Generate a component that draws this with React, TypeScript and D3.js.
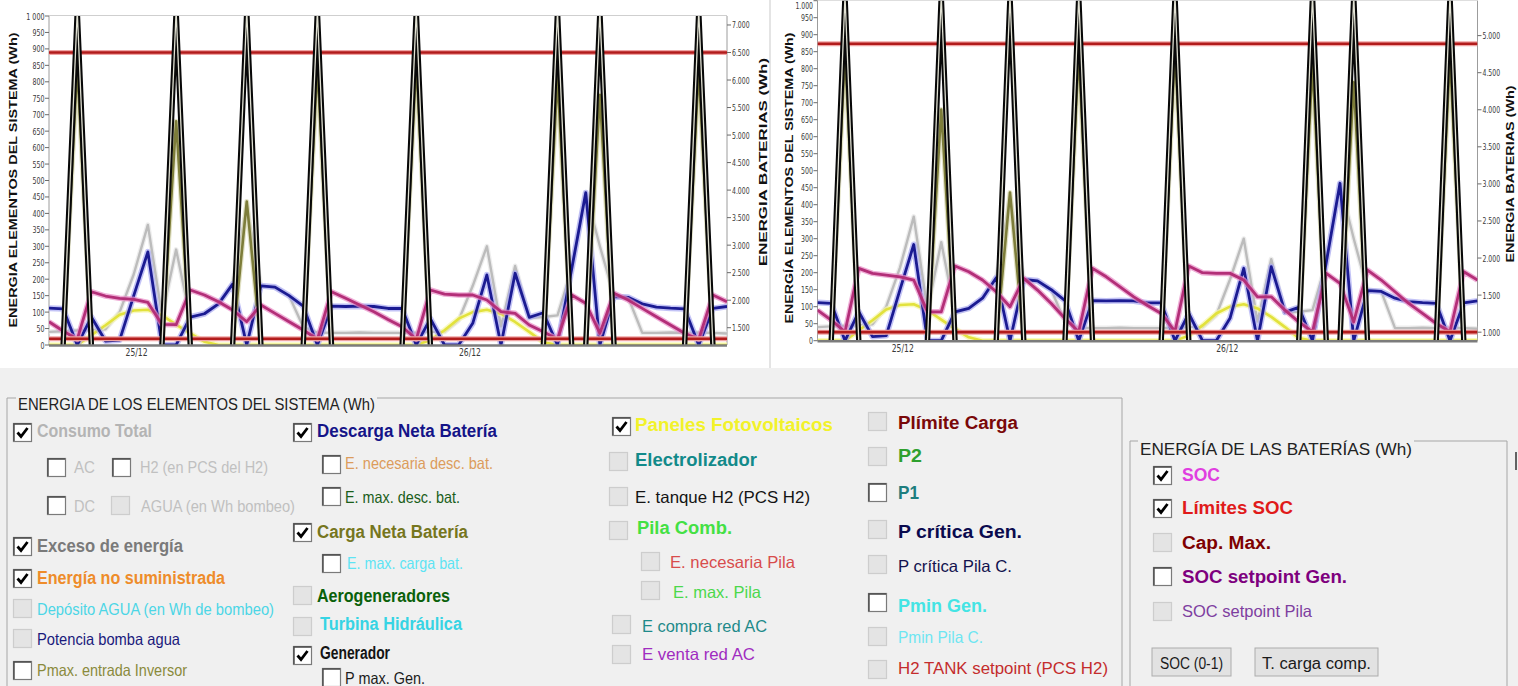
import React from "react";
import * as d3 from "d3";

// ---- Hourly simulation values (index 0 = 24/12 18:00) ----
const dateTicks = [
  { at: 6.2, label: "25/12" },
  { at: 29.8, label: "26/12" },
];

// Consumo Total (Wh)
const consumoTotal = [
  40, 42, 44, 45, 48, 100, 215, 365, 90, 290, 82, 95, 125, 185, 420, 180, 175, 150, 55, 38, 37, 37, 38, 37, 37,
  37, 38, 40, 40, 75, 180, 300, 56, 240, 82, 85, 90, 230, 463, 300, 150, 145, 37, 37, 38, 37, 38, 37, 35,
];
// Descarga Neta Batería (Wh)
const descargaNeta = [
  112, 110, 0, 85, 12, 15, 150, 283, 0, 0, 85, 95, 125, 185, 0, 180, 176, 150, 118, 0, 118, 117, 118, 117, 111,
  111, 0, 80, 0, 0, 66, 213, 0, 218, 84, 98, 0, 230, 463, 0, 147, 145, 125, 115, 112, 110, 0, 111, 117,
];
// Carga Neta Batería (Wh)
const cargaNeta = [
  0, 0, 850, 0, 0, 0, 0, 0, 0, 680, 0, 0, 0, 0, 436, 0, 0, 0, 0, 850, 0, 0, 0, 0, 0,
  0, 860, 0, 0, 0, 0, 0, 0, 0, 0, 0, 815, 0, 0, 760, 0, 0, 0, 0, 0, 0, 840, 0, 0,
];
// Generador (Wh)
const generador = [
  0, 0, 1015, 0, 0, 0, 0, 0, 0, 1015, 0, 0, 0, 0, 1015, 0, 0, 0, 0, 1015, 0, 0, 0, 0, 0,
  0, 1015, 0, 0, 0, 0, 0, 0, 0, 0, 0, 1015, 0, 0, 1015, 0, 0, 0, 0, 0, 0, 1015, 0, 0,
];
// Paneles Fotovoltaicos (Wh)
const fotovoltaica = [
  0, 0, 0, 30, 60, 92, 105, 107, 90, 62, 35, 10, 0, 0, 0, 0, 0, 0, 0, 0, 0, 0, 0, 0, 0,
  0, 0, 15, 45, 80, 100, 107, 95, 70, 40, 8, 0, 0, 0, 0, 0, 0, 0, 0, 0, 0, 0, 0, 0,
];
// SOC (Wh) — battery bank of the first case
const socCaso1 = [
  1609, 1440, 1290, 2154, 2076, 2034, 2016, 1960, 1560, 1555, 2185, 2094, 1972, 1822, 1609, 1912, 1761, 1609, 1458, 1290, 2154, 2034, 1912, 1791, 1650,
  1519, 1290, 2185, 2112, 2094, 2094, 2003, 1791, 1761, 1549, 1427, 1290, 2094, 1943, 1400, 2125, 2003, 1852, 1700, 1549, 1398, 1290, 2094, 1972,
];
// SOC (Wh) — battery bank of the second case
const socCaso2 = [
  1297, 1162, 1005, 1860, 1793, 1770, 1747, 1703, 1274, 1274, 1892, 1815, 1703, 1545, 1342, 1725, 1568, 1387, 1185, 1005, 1860, 1747, 1612, 1477, 1360,
  1252, 1010, 1892, 1802, 1793, 1793, 1703, 1477, 1477, 1297, 1139, 1005, 1793, 1658, 1139, 1838, 1703, 1545, 1387, 1252, 1117, 1005, 1815, 1703,
];
const limitesSoc1 = [1300, 6500];
const limitesSoc2 = [1000, 4890];

const TICK_FONT = "'Liberation Sans Narrow','Arial Narrow','DejaVu Sans Condensed',sans-serif";
const UI_FONT = "'Liberation Sans',Arial,sans-serif";

const thousands = (v: number) =>
  v >= 1000 ? `${Math.floor(v / 1000)}.${String(v % 1000).padStart(3, "0")}` : String(v);

// width of a small axis label, in pixels
const tickWidth = (s: string) =>
  s.split("").reduce((w, c) => w + (c === "." ? 1.6 : c === " " ? 2.2 : 4), 0);

type PanelCfg = {
  id: string;
  x0: number;
  x1: number;
  top: number;
  bottom: number;
  batDomain: [number, number];
  soc: number[];
  limits: number[];
  sysFmt: (v: number) => string;
  leftTitle: string;
  leftTitleX: number;
  leftTitleY: number;
  leftTitleLen: number;
  rightTitle: string;
  rightTitleX: number;
  rightTitleY: number;
  rightTitleLen: number;
  dateY: number;
};

const panels: PanelCfg[] = [
  {
    id: "a",
    x0: 49,
    x1: 727,
    top: 16,
    bottom: 345,
    batDomain: [1186, 7163],
    soc: socCaso1,
    limits: limitesSoc1,
    sysFmt: (v) => (v === 1000 ? "1 000" : String(v)),
    leftTitle: "ENERGIA ELEMENTOS DEL SISTEMA (Wh)",
    leftTitleX: 13,
    leftTitleY: 180,
    leftTitleLen: 295,
    rightTitle: "ENERGIA BATERIAS (Wh)",
    rightTitleX: 763,
    rightTitleY: 162,
    rightTitleLen: 208,
    dateY: 352,
  },
  {
    id: "b",
    x0: 817.5,
    x1: 1477.5,
    top: 0.7,
    bottom: 340.7,
    batDomain: [885, 5471],
    soc: socCaso2,
    limits: limitesSoc2,
    sysFmt: (v) => thousands(v),
    leftTitle: "ENERGÍA ELEMENTOS DEL SISTEMA (Wh)",
    leftTitleX: 789,
    leftTitleY: 178,
    leftTitleLen: 291,
    rightTitle: "ENERGIA BATERIAS (Wh)",
    rightTitleX: 1510,
    rightTitleY: 174,
    rightTitleLen: 177,
    dateY: 348,
  },
];

function Panel({ cfg }: { cfg: PanelCfg }) {
  const x = d3.scaleLinear().domain([0, consumoTotal.length - 1]).range([cfg.x0, cfg.x1]);
  const y = d3.scaleLinear().domain([0, 1000]).range([cfg.bottom, cfg.top]);
  const yb = d3.scaleLinear().domain(cfg.batDomain).range([cfg.bottom, cfg.top]);
  const path = (vals: number[], s: d3.ScaleLinear<number, number>) =>
    d3.line<number>().x((_, i) => x(i)).y((d) => s(d))(vals) || "";
  // one rise-and-fall path per non-zero step of a pulsed series
  const pulses = (vals: number[]) =>
    vals
      .map((v, k) => ({ v, k }))
      .filter((p) => p.v > 0)
      .map((p) => {
        const idx = [p.k - 1, p.k, p.k + 1].filter((i) => i >= 0 && i < vals.length);
        return d3.line<number>().x((i) => x(i)).y((i) => y(vals[i]))(idx) || "";
      })
      .join(" ");
  const clipId = `clip-${cfg.id}`;
  const sysTicks = y.ticks(20);
  const batTicks = yb.ticks(10).filter((t) => yb(t) >= cfg.top - 1);

  const series = [
    { d: path(consumoTotal, y), halo: "#e6e6e6", core: "#bcbcbc", hw: 5, cw: 2.4 },
    { d: path(fotovoltaica, y), halo: "#f6f6a8", core: "#e2e23c", hw: 5.5, cw: 2.6 },
    { d: path(descargaNeta, y), halo: "#a9a9f2", core: "#1b1b92", hw: 6, cw: 2.8 },
    { d: pulses(cargaNeta), halo: "#d6d6ae", core: "#7d7d3a", hw: 5, cw: 2.6 },
    { d: path(cfg.soc, yb), halo: "#e88cc6", core: "#b32f78", hw: 5.5, cw: 2.8 },
  ];
  const genPath = pulses(generador);

  return (
    <g>
      <defs>
        <clipPath id={clipId}>
          <rect x={cfg.x0} y={cfg.top} width={cfg.x1 - cfg.x0} height={cfg.bottom - cfg.top} />
        </clipPath>
      </defs>
      {/* frame */}
      <line x1={cfg.x0} x2={cfg.x1} y1={cfg.top - 0.5} y2={cfg.top - 0.5} stroke="#cfcfcf" strokeWidth={1} />
      <line x1={cfg.x0} x2={cfg.x0} y1={cfg.top} y2={cfg.bottom} stroke="#9c9c9c" strokeWidth={1} />
      <line x1={cfg.x1} x2={cfg.x1} y1={cfg.top} y2={cfg.bottom} stroke="#9c9c9c" strokeWidth={1} />

      <g clipPath={`url(#${clipId})`}>
        {series.map((s, i) => (
          <g key={i}>
            <path d={s.d} fill="none" stroke={s.halo} strokeWidth={s.hw} strokeOpacity={0.7} strokeLinejoin="round" />
            <path d={s.d} fill="none" stroke={s.core} strokeWidth={s.cw} strokeLinejoin="round" />
          </g>
        ))}
        {cfg.limits.map((v, i) => (
          <g key={`l${i}`}>
            <line x1={cfg.x0} x2={cfg.x1} y1={yb(v)} y2={yb(v)} stroke="#f0a4a4" strokeWidth={5} />
            <line x1={cfg.x0} x2={cfg.x1} y1={yb(v)} y2={yb(v)} stroke="#b21c1c" strokeWidth={2.6} />
          </g>
        ))}
        <path d={genPath} fill="none" stroke="#080808" strokeWidth={5.4} strokeLinejoin="round" />
        <path d={genPath} fill="none" stroke="#e2e2d4" strokeWidth={1.3} strokeLinejoin="round" />
      </g>

      {/* x axis */}
      <line x1={cfg.x0} x2={cfg.x1} y1={cfg.bottom + 0.5} y2={cfg.bottom + 0.5} stroke="#7c7c7c" strokeWidth={2.5} />
      {dateTicks.map((t) => (
        <text key={t.label} x={x(t.at)} y={cfg.dateY} textAnchor="middle" dominantBaseline="central"
          fontFamily={TICK_FONT} fontSize={10} fill="#3a3a3a" textLength={22} lengthAdjust="spacingAndGlyphs">{t.label}</text>
      ))}

      {/* left axis */}
      {sysTicks.map((t) => {
        const lbl = cfg.sysFmt(t);
        return (
          <g key={`s${t}`}>
            <line x1={cfg.x0 - 4} x2={cfg.x0} y1={y(t)} y2={y(t)} stroke="#6a6a6a" strokeWidth={1} />
            <text x={cfg.x0 - 4.5} y={Math.max(y(t), 5.5)} textAnchor="end" dominantBaseline="central"
              fontFamily={TICK_FONT} fontSize={9.5} fill="#3a3a3a" textLength={tickWidth(lbl)}
              lengthAdjust="spacingAndGlyphs">{lbl}</text>
          </g>
        );
      })}
      {/* right axis */}
      {batTicks.map((t) => {
        const lbl = thousands(t);
        return (
          <g key={`b${t}`}>
            <line x1={cfg.x1} x2={cfg.x1 + 4} y1={yb(t)} y2={yb(t)} stroke="#6a6a6a" strokeWidth={1} />
            <text x={cfg.x1 + 5} y={yb(t)} textAnchor="start" dominantBaseline="central"
              fontFamily={TICK_FONT} fontSize={9.5} fill="#3a3a3a" textLength={tickWidth(lbl)}
              lengthAdjust="spacingAndGlyphs">{lbl}</text>
          </g>
        );
      })}

      <text transform={`translate(${cfg.leftTitleX},${cfg.leftTitleY}) rotate(-90)`} textAnchor="middle"
        dominantBaseline="central" fontFamily={UI_FONT} fontWeight="bold" fontSize={11.5} fill="#111"
        textLength={cfg.leftTitleLen} lengthAdjust="spacingAndGlyphs">{cfg.leftTitle}</text>
      <text transform={`translate(${cfg.rightTitleX},${cfg.rightTitleY}) rotate(-90)`} textAnchor="middle"
        dominantBaseline="central" fontFamily={UI_FONT} fontWeight="bold" fontSize={11.5} fill="#111"
        textLength={cfg.rightTitleLen} lengthAdjust="spacingAndGlyphs">{cfg.rightTitle}</text>
    </g>
  );
}

// ---- Series selector panel ----
type BoxState = "on" | "off" | "dis";
type Item = {
  label: string;
  color: string;
  bold?: boolean;
  state: BoxState;
  cx: number;
  cy: number;
  tx: number;
  ty: number;
  tw: number;
};

const selectorItems: Item[] = [
  { label: "Consumo Total", color: "#b4b4b4", bold: true, state: "on", cx: 13, cy: 423, tx: 37, ty: 431, tw: 115 },
  { label: "AC", color: "#c0c0c0", state: "off", cx: 47, cy: 458, tx: 74, ty: 467, tw: 21 },
  { label: "H2 (en PCS del H2)", color: "#c0c0c0", state: "off", cx: 112, cy: 458, tx: 140, ty: 467, tw: 128 },
  { label: "DC", color: "#c0c0c0", state: "off", cx: 47, cy: 496, tx: 74, ty: 506, tw: 21 },
  { label: "AGUA (en Wh bombeo)", color: "#c0c0c0", state: "dis", cx: 111, cy: 496, tx: 141, ty: 506, tw: 154 },
  { label: "Exceso de energía", color: "#7a7a7a", bold: true, state: "on", cx: 13, cy: 537, tx: 37, ty: 546, tw: 146 },
  { label: "Energía no suministrada", color: "#ee8c2a", bold: true, state: "on", cx: 13, cy: 569, tx: 37, ty: 578, tw: 188 },
  { label: "Depósito AGUA (en Wh de bombeo)", color: "#4cd6e6", state: "dis", cx: 13, cy: 599, tx: 37, ty: 609, tw: 237 },
  { label: "Potencia bomba agua", color: "#1a1a7c", state: "dis", cx: 13, cy: 629, tx: 37, ty: 639, tw: 143 },
  { label: "Pmax. entrada Inversor", color: "#8a8a3c", state: "off", cx: 13, cy: 661, tx: 37, ty: 670, tw: 150 },

  { label: "Descarga Neta Batería", color: "#141488", bold: true, state: "on", cx: 293, cy: 423, tx: 317, ty: 431, tw: 180 },
  { label: "E. necesaria desc. bat.", color: "#dc9c5c", state: "off", cx: 322, cy: 455, tx: 345, ty: 463, tw: 148 },
  { label: "E. max. desc. bat.", color: "#1a5e1a", state: "off", cx: 322, cy: 487, tx: 345, ty: 497, tw: 115 },
  { label: "Carga Neta Batería", color: "#76761e", bold: true, state: "on", cx: 293, cy: 523, tx: 317, ty: 532, tw: 151 },
  { label: "E. max. carga bat.", color: "#5ee4f4", state: "off", cx: 322, cy: 554, tx: 347, ty: 563, tw: 116 },
  { label: "Aerogeneradores", color: "#0a600a", bold: true, state: "dis", cx: 293, cy: 586, tx: 317, ty: 596, tw: 133 },
  { label: "Turbina Hidráulica", color: "#36d4e4", bold: true, state: "dis", cx: 293, cy: 617, tx: 320, ty: 624, tw: 142 },
  { label: "Generador", color: "#141414", bold: true, state: "on", cx: 293, cy: 646, tx: 320, ty: 653, tw: 70 },
  { label: "P max. Gen.", color: "#1c1c1c", state: "off", cx: 322, cy: 668, tx: 345, ty: 678, tw: 80 },

  { label: "Paneles Fotovoltaicos", color: "#f2f22a", bold: true, state: "on", cx: 612, cy: 417, tx: 635, ty: 425, tw: 198 },
  { label: "Electrolizador", color: "#128a8a", bold: true, state: "dis", cx: 609, cy: 452, tx: 635, ty: 460, tw: 122 },
  { label: "E. tanque H2 (PCS H2)", color: "#141414", state: "dis", cx: 609, cy: 487, tx: 635, ty: 497, tw: 175 },
  { label: "Pila Comb.", color: "#44e044", bold: true, state: "dis", cx: 609, cy: 521, tx: 637, ty: 528, tw: 95 },
  { label: "E. necesaria Pila", color: "#d84c4c", state: "dis", cx: 641, cy: 552, tx: 670, ty: 562, tw: 125 },
  { label: "E. max. Pila", color: "#4cd84c", state: "dis", cx: 641, cy: 581, tx: 673, ty: 592, tw: 88 },
  { label: "E compra red AC", color: "#1e8a8a", state: "dis", cx: 612, cy: 615, tx: 642, ty: 626, tw: 125 },
  { label: "E venta red AC", color: "#a02cc0", state: "dis", cx: 612, cy: 645, tx: 642, ty: 654, tw: 113 },

  { label: "Plímite Carga", color: "#7a0808", bold: true, state: "dis", cx: 868, cy: 412, tx: 898, ty: 423, tw: 120 },
  { label: "P2", color: "#2ea02e", bold: true, state: "dis", cx: 868, cy: 447, tx: 898, ty: 456, tw: 24 },
  { label: "P1", color: "#1e7e7e", bold: true, state: "off", cx: 868, cy: 483, tx: 898, ty: 493, tw: 21 },
  { label: "P crítica Gen.", color: "#0a0a4e", bold: true, state: "dis", cx: 868, cy: 520, tx: 898, ty: 532, tw: 124 },
  { label: "P crítica Pila C.", color: "#12124e", state: "dis", cx: 868, cy: 555, tx: 898, ty: 566, tw: 114 },
  { label: "Pmin Gen.", color: "#44e4e4", bold: true, state: "off", cx: 868, cy: 593, tx: 898, ty: 606, tw: 89 },
  { label: "Pmin Pila C.", color: "#6ee6f2", state: "dis", cx: 868, cy: 627, tx: 898, ty: 637, tw: 85 },
  { label: "H2 TANK setpoint (PCS H2)", color: "#c42c2c", state: "dis", cx: 868, cy: 660, tx: 898, ty: 668, tw: 210 },

  { label: "SOC", color: "#e03ee0", bold: true, state: "on", cx: 1153, cy: 466, tx: 1182, ty: 475, tw: 38 },
  { label: "Límites SOC", color: "#e01a1a", bold: true, state: "on", cx: 1153, cy: 499, tx: 1182, ty: 508, tw: 111 },
  { label: "Cap. Max.", color: "#7e0000", bold: true, state: "dis", cx: 1153, cy: 533, tx: 1182, ty: 543, tw: 89 },
  { label: "SOC setpoint Gen.", color: "#7e007e", bold: true, state: "off", cx: 1153, cy: 567, tx: 1182, ty: 577, tw: 165 },
  { label: "SOC setpoint Pila", color: "#7e3ea0", state: "dis", cx: 1153, cy: 602, tx: 1182, ty: 611, tw: 130 },
];

function CheckBox({ x, y, state }: { x: number; y: number; state: BoxState }) {
  const s = 18;
  const enabled = state !== "dis";
  return (
    <g>
      <rect x={x + 0.5} y={y + 0.5} width={s} height={s} fill={enabled ? "#ffffff" : "#e4e4e4"}
        stroke={enabled ? "#7a7a7a" : "#cdcdcd"} strokeWidth={1.2} />
      {enabled && (
        <path d={`M${x + 1} ${y + s} V${y + 1} H${x + s}`} fill="none" stroke="#4a4a4a" strokeWidth={1.4} />
      )}
      {state === "on" && (
        <path d={`M${x + 4.5} ${y + 9.5} L${x + 8} ${y + 13.5} L${x + 14.5} ${y + 5}`} fill="none"
          stroke="#000" strokeWidth={2.8} strokeLinejoin="miter" />
      )}
    </g>
  );
}

function GroupFrame({ x0, x1, y, textX0, textX1 }: { x0: number; x1: number; y: number; textX0: number; textX1: number }) {
  return (
    <g stroke="#a6a6a6" strokeWidth={1}>
      <line x1={x0} x2={textX0} y1={y} y2={y} />
      <line x1={textX1} x2={x1} y1={y} y2={y} />
      <line x1={x0} x2={x0} y1={y} y2={686} />
      <line x1={x1} x2={x1} y1={y} y2={686} />
    </g>
  );
}

function Button({ x, y, w, h, label, tw }: { x: number; y: number; w: number; h: number; label: string; tw: number }) {
  return (
    <g>
      <rect x={x} y={y} width={w} height={h} fill="#e2e2e2" stroke="#acacac" strokeWidth={1} />
      <text x={x + w / 2} y={y + h / 2 + 1} textAnchor="middle" dominantBaseline="central" fontFamily={UI_FONT}
        fontSize={16} fill="#1a1a1a" textLength={tw} lengthAdjust="spacingAndGlyphs">{label}</text>
    </g>
  );
}

export default function App() {
  return (
    <svg width={1518} height={686} style={{ position: "absolute", left: 0, top: 0, display: "block" }}>
      <rect x={0} y={0} width={1518} height={686} fill="#ffffff" />
      <rect x={0} y={368} width={1518} height={318} fill="#f0f0f0" />
      <line x1={770} x2={770} y1={0} y2={368} stroke="#c9c9c9" strokeWidth={1} />

      {panels.map((p) => (
        <Panel key={p.id} cfg={p} />
      ))}

      {/* selector panel */}
      <GroupFrame x0={7} x1={1122} y={398} textX0={16} textX1={377} />
      <text x={18} y={404} dominantBaseline="central" fontFamily={UI_FONT} fontSize={17} fill="#222"
        textLength={357} lengthAdjust="spacingAndGlyphs">ENERGIA DE LOS ELEMENTOS DEL SISTEMA (Wh)</text>

      <GroupFrame x0={1130} x1={1507} y={441} textX0={1138} textX1={1414} />
      <text x={1140} y={449} dominantBaseline="central" fontFamily={UI_FONT} fontSize={17} fill="#222"
        textLength={272} lengthAdjust="spacingAndGlyphs">ENERGÍA DE LAS BATERÍAS (Wh)</text>
      <line x1={1516} x2={1516} y1={452} y2={470} stroke="#333" strokeWidth={1.5} />

      {selectorItems.map((it) => (
        <g key={it.label}>
          <CheckBox x={it.cx} y={it.cy} state={it.state} />
          <text x={it.tx} y={it.ty} dominantBaseline="central" fontFamily={UI_FONT}
            fontWeight={it.bold ? "bold" : "normal"} fontSize={it.bold ? 17.5 : 16.5} fill={it.color}
            textLength={it.tw} lengthAdjust="spacingAndGlyphs">{it.label}</text>
        </g>
      ))}

      <Button x={1152} y={648} w={79} h={28} label="SOC (0-1)" tw={63} />
      <Button x={1255} y={648} w={123} h={28} label="T. carga comp." tw={109} />
    </svg>
  );
}
